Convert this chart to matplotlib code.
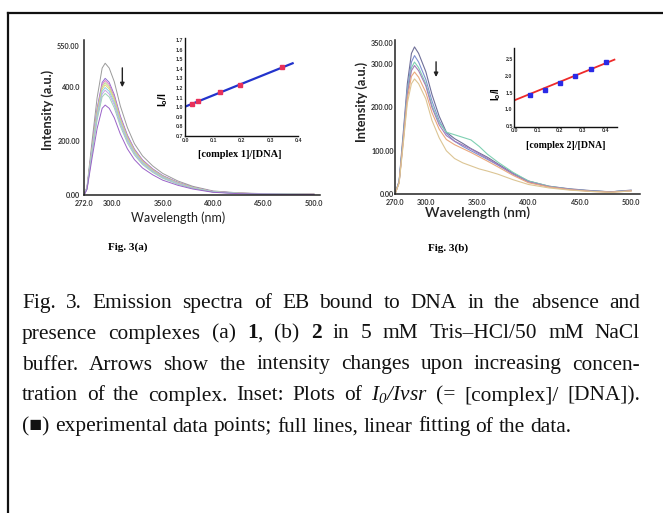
import re
import numpy as np
import matplotlib
matplotlib.use("Agg")
import matplotlib.pyplot as plt
from matplotlib.lines import Line2D
from matplotlib.transforms import IdentityTransform

W, H = 663, 513

# -----------------------------
# Panel (a): emission spectra, complex 1
# -----------------------------
wl_a = [272, 275, 280, 285, 290, 293, 297, 302, 308, 315, 322, 330, 340, 350, 365, 380, 400, 425, 450, 475, 500]
spec_a1 = [0, 30, 200, 360, 470, 488, 470, 420, 330, 250, 190, 145, 108, 80, 52, 32, 15, 8, 5, 4, 3]
spec_a2 = [0, 27, 178, 320, 417, 432, 417, 372, 293, 222, 170, 130, 97, 72, 47, 29, 13, 7, 4, 3, 3]
spec_a3 = [0, 26, 174, 314, 409, 424, 409, 365, 287, 218, 167, 128, 95, 70, 46, 28, 13, 7, 4, 3, 3]
spec_a4 = [0, 26, 171, 308, 401, 416, 401, 358, 282, 214, 164, 125, 93, 69, 45, 28, 12, 7, 4, 3, 3]
spec_a5 = [0, 25, 168, 302, 393, 408, 393, 351, 276, 210, 161, 123, 91, 67, 44, 27, 12, 6, 4, 3, 2]
spec_a6 = [0, 25, 164, 295, 384, 398, 384, 342, 270, 205, 157, 120, 89, 66, 43, 26, 12, 6, 4, 3, 2]
spec_a7 = [0, 24, 160, 287, 374, 388, 374, 334, 263, 200, 153, 117, 87, 64, 42, 26, 11, 6, 4, 3, 2]
spec_a8 = [0, 23, 155, 278, 363, 376, 363, 323, 255, 193, 148, 113, 84, 62, 40, 25, 11, 6, 3, 3, 2]
spec_a9 = [0, 21, 137, 246, 321, 333, 321, 286, 226, 171, 131, 100, 75, 55, 36, 22, 10, 5, 3, 2, 2]
colors_a = ['#9b9b9b', '#8e6fd0', '#e07ac8', '#b8dc8a', '#e3d27a',
            '#86d3e6', '#c7a6e6', '#9fd4b8', '#9a62c8']

xticks_a = [272, 300, 350, 400, 450, 500]
xlabels_a = ["272.0", "300.0", "350.0", "400.0", "450.0", "500.0"]
yticks_a = [0, 200, 400, 550]
ylabels_a = ["0.00", "200.00", "400.0", "550.00"]

# inset (a)
conc_a = [0.024, 0.045, 0.124, 0.194, 0.344]
ratio_a = [1.033, 1.065, 1.155, 1.232, 1.415]
fit_a_x = [0.0, 0.38]
fit_a_y = [1.005, 1.457]

# -----------------------------
# Panel (b): emission spectra, complex 2
# -----------------------------
wl_b = [270, 274, 278, 282, 286, 289, 293, 300, 306, 313, 320, 328, 336, 344, 352, 360, 370, 385, 400, 420, 440, 460, 480, 500]
spec_b1 = [0, 30, 140, 255, 325, 340, 325, 283, 230, 180, 143, 128, 117, 105, 95, 85, 70, 48, 30, 18, 12, 8, 5, 9]
spec_b2 = [0, 28, 130, 240, 305, 320, 305, 265, 215, 170, 140, 122, 110, 100, 90, 80, 67, 46, 28, 17, 11, 7, 5, 8]
spec_b3 = [0, 28, 128, 235, 292, 305, 292, 255, 205, 165, 143, 137, 131, 125, 110, 92, 74, 50, 30, 18, 11, 7, 5, 8]
spec_b4 = [0, 27, 125, 230, 285, 297, 285, 250, 200, 160, 135, 122, 113, 104, 93, 82, 68, 46, 28, 17, 11, 7, 5, 8]
spec_b5 = [0, 26, 120, 220, 272, 282, 270, 235, 188, 150, 126, 114, 105, 96, 86, 76, 63, 43, 26, 16, 10, 6, 4, 7]
spec_b6 = [0, 25, 115, 210, 255, 266, 255, 220, 170, 130, 100, 82, 72, 65, 58, 53, 46, 33, 22, 14, 9, 6, 4, 7]
colors_b = ['#6f6f98', '#7f90d2', '#7fd0b2', '#a27cba', '#eaa87e', '#dcc594']

xticks_b = [270, 300, 350, 400, 450, 500]
xlabels_b = ["270.0", "300.0", "350.0", "400.0", "450.0", "500.0"]
yticks_b = [0, 100, 200, 300, 350]
ylabels_b = ["0.00", "100.00", "200.00", "300.00", "350.00"]

# inset (b)
conc_b = [0.069, 0.135, 0.201, 0.268, 0.337, 0.404]
ratio_b = [1.43, 1.58, 1.79, 2.01, 2.21, 2.42]
fit_b_x = [0.0, 0.44]
fit_b_y = [1.27, 2.49]

# -----------------------------
# Caption
# -----------------------------
caption_lines = [
    "Fig. 3. Emission spectra of EB bound to DNA in the absence and",
    "presence complexes (a) *1*, (b) *2* in 5 mM Tris\u2013HCl/50 mM NaCl",
    "buffer. Arrows show the intensity changes upon increasing concen-",
    "tration of the complex. Inset: Plots of ~I$_\\mathregular{0}$/Ivsr~ (= [complex]/ [DNA]).",
    "(\u25a0) experimental data points; full lines, linear fitting of the data.",
]
caption_base = [308, 338.5, 369.5, 400.5, 431.5]

SANS = ['Lato', 'DejaVu Sans']
SERIF = ['Liberation Serif', 'DejaVu Serif']
ARIAL = ['Liberation Sans', 'DejaVu Sans']


def box(l, t, r, b):
    return [l / W, 1 - b / H, (r - l) / W, (b - t) / H]


fig = plt.figure(figsize=(W / 100, H / 100), dpi=100)
fig.patch.set_facecolor('white')

# frame (left and top edges of the scanned box)
fig.add_artist(Line2D([8 / W, 8 / W], [0, 1 - 13 / H], transform=fig.transFigure, color='#111', lw=1.6))
fig.add_artist(Line2D([8 / W, 1], [1 - 13 / H, 1 - 13 / H], transform=fig.transFigure, color='#111', lw=1.6))


def style_main(ax, xt, xl, yt, yl, ypad):
    for s in ['top', 'right']:
        ax.spines[s].set_visible(False)
    for s in ['left', 'bottom']:
        ax.spines[s].set_linewidth(1.1)
        ax.spines[s].set_color('#222')
    ax.set_xticks(xt)
    ax.set_xticklabels(xl)
    ax.set_yticks(yt)
    ax.set_yticklabels(yl)
    ax.tick_params(axis='x', length=0, pad=3.5)
    ax.tick_params(axis='y', length=0, pad=ypad)
    for lbl in ax.get_xticklabels() + ax.get_yticklabels():
        lbl.set_fontfamily(SANS)
        lbl.set_fontweight('bold')
        lbl.set_fontsize(5.2)
        lbl.set_color('#333')


def style_inset(ax, xt, yt):
    for s in ['top', 'right']:
        ax.spines[s].set_visible(False)
    for s in ['left', 'bottom']:
        ax.spines[s].set_linewidth(1.0)
        ax.spines[s].set_color('#111')
    ax.set_xticks(xt)
    ax.set_xticklabels(["%.1f" % v for v in xt])
    ax.set_yticks(yt)
    ax.set_yticklabels(["%.1f" % v for v in yt])
    ax.tick_params(length=0, pad=1.2)
    ax.patch.set_alpha(0)
    for lbl in ax.get_xticklabels() + ax.get_yticklabels():
        lbl.set_fontfamily(ARIAL)
        lbl.set_fontweight('bold')
        lbl.set_fontsize(3.8)
        lbl.set_color('#333')


# ---- panel (a)
ax_a = fig.add_axes(box(84, 40, 320, 195))
for s, c in zip([spec_a1, spec_a2, spec_a3, spec_a4, spec_a5, spec_a6, spec_a7, spec_a8, spec_a9], colors_a):
    ax_a.plot(wl_a, s, color=c, lw=0.7)
ax_a.set_xlim(272, 506)
ax_a.set_ylim(0, 574)
style_main(ax_a, xticks_a, xlabels_a, yticks_a, ylabels_a, 3)
ax_a.annotate('', xy=(310, 389), xytext=(310, 481),
              arrowprops=dict(arrowstyle='-|>', color='#222', lw=1.0, mutation_scale=6))

ins_a = fig.add_axes(box(185, 38, 298.3, 136))
ins_a.plot(fit_a_x, fit_a_y, color='#2233cc', lw=1.6, zorder=2)
ins_a.plot(conc_a, ratio_a, 's', color='#e8305a', ms=3, zorder=3)
ins_a.set_xlim(0, 0.4)
ins_a.set_ylim(0.7, 1.72)
style_inset(ins_a, [0.0, 0.1, 0.2, 0.3, 0.4], [0.7, 0.8, 0.9, 1.0, 1.1, 1.2, 1.3, 1.4, 1.5, 1.6, 1.7])

# ---- panel (b)
ax_b = fig.add_axes(box(395, 40, 640, 194))
for s, c in zip([spec_b1, spec_b2, spec_b3, spec_b4, spec_b5, spec_b6], colors_b):
    ax_b.plot(wl_b, s, color=c, lw=0.8)
ax_b.set_xlim(270, 508.6)
ax_b.set_ylim(0, 356)
style_main(ax_b, xticks_b, xlabels_b, yticks_b, ylabels_b, 1)
ax_b.annotate('', xy=(310, 264), xytext=(310, 312),
              arrowprops=dict(arrowstyle='-|>', color='#222', lw=1.0, mutation_scale=6))

ins_b = fig.add_axes(box(514.3, 48.3, 616.7, 126.7))
ins_b.plot(fit_b_x, fit_b_y, color='#ee2a2a', lw=1.3, zorder=2)
ins_b.plot(conc_b, ratio_b, 's', color='#2a2ae6', ms=2.8, zorder=3)
ins_b.set_xlim(0, 0.45)
ins_b.set_ylim(0.48, 2.83)
style_inset(ins_b, [0.0, 0.1, 0.2, 0.3, 0.4], [0.5, 1.0, 1.5, 2.0, 2.5])


# ---- axis titles, placed in pixel coordinates
def ftext(x, y, s, **kw):
    return fig.text(x / W, 1 - y / H, s, ha='center', va='center', **kw)


ftext(48, 110, "Intensity (a.u.)", rotation=90, fontsize=9.2, fontweight='bold', family=SANS, color='#222')
ftext(178, 218, "Wavelength (nm)", fontsize=9.0, family=SANS, color='#222')
ftext(362, 102, "Intensity (a.u.)", rotation=90, fontsize=9.2, fontweight='bold', family=SANS, color='#222')
ftext(478, 213, "Wavelength (nm)", fontsize=10.0, fontweight='semibold', family=SANS, color='#222')

ftext(163, 100, "I$_\\mathregular{o}$/I", rotation=90, fontsize=7.5, fontweight='bold', family=ARIAL)
ftext(496, 94, "I$_\\mathregular{o}$/I", rotation=90, fontsize=7.0, fontweight='bold', family=ARIAL)
ftext(240, 155, "[complex 1]/[DNA]", fontsize=7.5, fontweight='bold', family=SERIF)
ftext(566, 145, "[complex 2]/[DNA]", fontsize=7.0, fontweight='bold', family=SERIF)

ftext(128, 247, "Fig. 3(a)", fontsize=8, fontweight='bold', family=SERIF)
ftext(448, 248, "Fig. 3(b)", fontsize=8, fontweight='bold', family=SERIF)

# -----------------------------
# Caption, justified word by word
# -----------------------------
renderer = fig.canvas.get_renderer()
x_left, x_right = 22, 640


def run_style(part):
    if part.startswith('*'):
        return part[1:-1], {'fontweight': 'bold'}
    if part.startswith('~'):
        return part[1:-1], {'fontstyle': 'italic'}
    return part, {}


probe = fig.text(0, 0, caption_lines[-1], fontsize=10, family=SERIF, transform=IdentityTransform())
w10 = probe.get_window_extent(renderer).width
probe.remove()
fs = 10 * 548 / w10

for i, (line, base) in enumerate(zip(caption_lines, caption_base)):
    y_disp = H - base
    words = line.split(' ')
    placed = []
    for word in words:
        parts = re.findall(r'\*[^*]+\*|~[^~]+~|[^*~]+', word)
        runs = []
        for p in parts:
            txt, st = run_style(p)
            t = fig.text(0, y_disp, txt, fontsize=fs, family=SERIF, va='baseline',
                         transform=IdentityTransform(), color='#111', **st)
            runs.append((t, t.get_window_extent(renderer).width))
        placed.append(runs)
    widths = [sum(w for _, w in runs) for runs in placed]
    if i < len(caption_lines) - 1:
        gap = (x_right - x_left - sum(widths)) / (len(words) - 1)
    else:
        sp = fig.text(0, 0, "a a", fontsize=fs, family=SERIF, transform=IdentityTransform())
        sp2 = fig.text(0, 0, "aa", fontsize=fs, family=SERIF, transform=IdentityTransform())
        gap = sp.get_window_extent(renderer).width - sp2.get_window_extent(renderer).width
        sp.remove()
        sp2.remove()
    x = x_left
    for runs, wsum in zip(placed, widths):
        xx = x
        for t, w in runs:
            t.set_x(xx)
            xx += w
        x += wsum + gap

fig.savefig("out.png", dpi=100, facecolor='white')
